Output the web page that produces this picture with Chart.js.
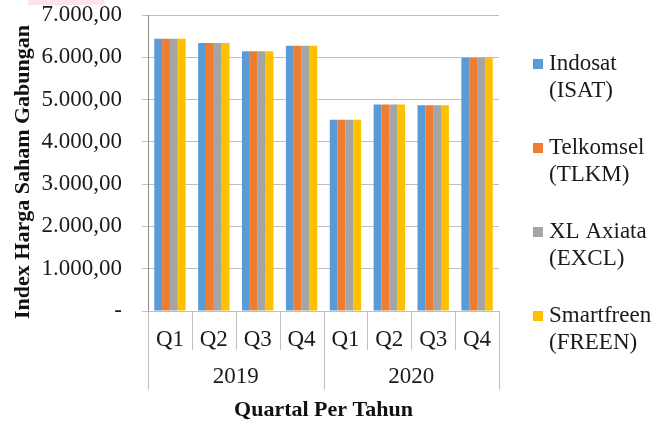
<!DOCTYPE html>
<html>
<head>
<meta charset="utf-8">
<script src="https://cdn.jsdelivr.net/npm/chart.js@4.4.1/dist/chart.umd.min.js"></script>
<style>
  html, body { margin: 0; padding: 0; background: #fff; }
  #wrap { position: relative; width: 651px; height: 421px; }
  #mark { position: absolute; left: 28px; top: 0; width: 76px; height: 5px; background: #fce4ec; }
</style>
</head>
<body>
<div id="wrap">
  <canvas id="chart" width="651" height="421"></canvas>
  <div id="mark"></div>
</div>
<script>
// data
const quarters = ["Q1", "Q2", "Q3", "Q4", "Q1", "Q2", "Q3", "Q4"];
const years = ["2019", "2020"];
const seriesNames = [["Indosat", "(ISAT)"], ["Telkomsel", "(TLKM)"], ["XL Axiata", "(EXCL)"], ["Smartfreen", "(FREEN)"]];
const isatValues = [6440, 6335, 6140, 6275, 4520, 4885, 4865, 5990];
const tlkmValues = [6440, 6335, 6140, 6275, 4520, 4885, 4865, 5990];
const exclValues = [6440, 6335, 6140, 6275, 4520, 4885, 4865, 5990];
const freenValues = [6440, 6335, 6140, 6275, 4520, 4885, 4865, 5990];
const seriesColors = ["#5B9BD5", "#ED7D31", "#A5A5A5", "#FFC000"];
const yTitle = "Index Harga Saham Gabungan";
const xTitle = "Quartal Per Tahun";

const FONT = "'Liberation Serif', 'Times New Roman', serif";
const LINE_COLOR = "#BFBFBF";

function fmt(v) {
  if (v === 0) return "-";
  const s = v.toFixed(2).split(".");
  return s[0].replace(/\B(?=(\d{3})+(?!\d))/g, ".") + "," + s[1];
}

// Excel-style two level category axis (years row + separators)
const yearAxisPlugin = {
  id: "yearAxis",
  afterDraw(chart) {
    const ctx = chart.ctx;
    const x = chart.scales.x;
    const base = chart.chartArea.bottom;
    const step = x.getPixelForValue(1) - x.getPixelForValue(0);
    const perYear = quarters.length / years.length;
    ctx.save();
    ctx.strokeStyle = LINE_COLOR;
    ctx.lineWidth = 1;
    for (let i = 0; i <= quarters.length; i++) {
      const px = Math.round(x.getPixelForValue(0) - step / 2 + i * step) + 0.5;
      const end = i % perYear === 0 ? base + 79 : base + 39;
      ctx.beginPath();
      ctx.moveTo(px, base);
      ctx.lineTo(px, end);
      ctx.stroke();
    }
    ctx.fillStyle = "#1a1a1a";
    ctx.font = "23px " + FONT;
    ctx.textAlign = "center";
    ctx.textBaseline = "middle";
    years.forEach((yr, i) => {
      const cx = (x.getPixelForValue(i * perYear) + x.getPixelForValue(i * perYear + perYear - 1)) / 2;
      ctx.fillText(yr, cx, base + 66);
    });

    // vertical axis title (sits a bit lower than the plot centre, like the original)
    ctx.save();
    ctx.translate(23, (chart.chartArea.top + chart.chartArea.bottom) / 2 + 9);
    ctx.rotate(-Math.PI / 2);
    ctx.fillStyle = "#111";
    ctx.font = "bold 22px " + FONT;
    ctx.fillText(yTitle, 0, 0);
    ctx.restore();
    ctx.restore();
  },
};

// legend with two-line labels on the right
const sideLegendPlugin = {
  id: "sideLegend",
  afterDraw(chart) {
    const ctx = chart.ctx;
    const left = chart.chartArea.right + 34;
    ctx.save();
    ctx.font = "23px " + FONT;
    ctx.textBaseline = "middle";
    ctx.textAlign = "left";
    chart.data.datasets.forEach((ds, i) => {
      const y = 64 + i * 84;
      ctx.fillStyle = ds.backgroundColor;
      ctx.fillRect(left, y - 5, 10, 10);
      ctx.fillStyle = "#1a1a1a";
      ds.lines.forEach((ln, j) => ctx.fillText(ln, left + 16, y + j * 27));
    });
    ctx.restore();
  },
};

const datasetValues = [isatValues, tlkmValues, exclValues, freenValues];

new Chart(document.getElementById("chart"), {
  type: "bar",
  data: {
    labels: quarters,
    datasets: datasetValues.map((vals, i) => ({
      label: seriesNames[i].join(" "),
      lines: seriesNames[i],
      data: vals,
      backgroundColor: seriesColors[i],
      borderWidth: 0,
      categoryPercentage: 0.715,
      barPercentage: 1,
    })),
  },
  options: {
    responsive: false,
    animation: false,
    layout: { padding: { left: 0, right: 152, top: 15, bottom: 0 } },
    plugins: {
      legend: { display: false },
      tooltip: { enabled: false },
    },
    scales: {
      y: {
        min: 0,
        max: 7000,
        ticks: {
          stepSize: 1000,
          color: "#1a1a1a",
          font: { family: FONT, size: 23 },
          padding: 20,
          callback: (v) => fmt(v),
        },
        grid: { color: LINE_COLOR, tickLength: 6, tickColor: LINE_COLOR },
        border: { display: true, color: "#8C8C8C" },
        title: { display: false },
        afterFit(scale) {
          scale.width = 148;
          scale.paddingTop = 0;
          scale.paddingBottom = 0;
        },
      },
      x: {
        ticks: {
          color: "#1a1a1a",
          font: { family: FONT, size: 23 },
          padding: 15,
        },
        grid: { display: false, drawTicks: false },
        border: { display: true, color: LINE_COLOR },
        title: {
          display: true,
          text: xTitle,
          color: "#111",
          font: { family: FONT, size: 22, weight: "bold", lineHeight: 1.0 },
          padding: { top: 0, bottom: 0 },
        },
        afterFit(scale) { scale.height = 110; },
      },
    },
  },
  plugins: [yearAxisPlugin, sideLegendPlugin],
});
</script>
</body>
</html>
